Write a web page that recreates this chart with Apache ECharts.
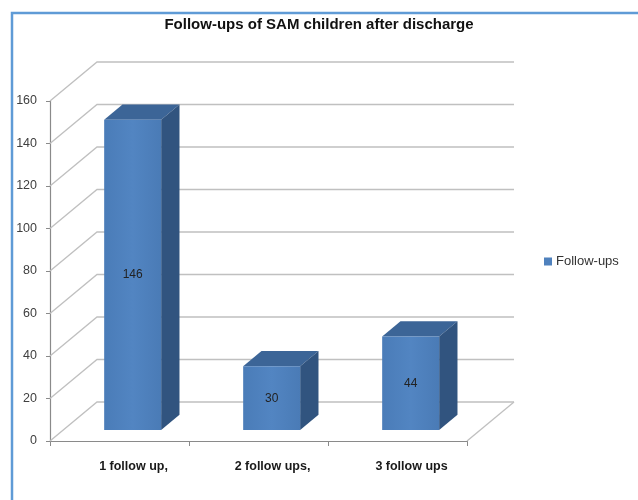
<!DOCTYPE html>
<html>
<head>
<meta charset="utf-8">
<script src="https://cdn.jsdelivr.net/npm/echarts@6/dist/echarts.min.js"></script>
<style>
  html, body { margin: 0; padding: 0; background: #ffffff; }
  #chart { width: 638px; height: 500px; }
</style>
</head>
<body>
<div id="chart"></div>
<script>
// Follow-up counts per category
const categories = ['1 follow up,', '2 follow ups,', '3 follow ups'];
const followUps = [146, 30, 44];
const seriesName = 'Follow-ups';
const valueTicks = [0, 20, 40, 60, 80, 100, 120, 140, 160];

// pseudo-3D geometry (pixels)
const DEPTH_DX = 47, DEPTH_DY = -39;       // front plane -> back wall
const BAR_Z0 = 0.28, BAR_Z1 = 0.67;        // bar front/back as fraction of depth
const BAR_W = 0.41;                        // bar width as fraction of band
const FONT = '"Liberation Sans", Arial, sans-serif';

const chart = echarts.init(document.getElementById('chart'), null, { renderer: 'canvas' });

function wallItem(params, api) {
  const cs = params.coordSys;
  const y = api.coord([0, api.value(1)])[1];
  const style = { stroke: '#c0c0c0', lineWidth: 1.3, fill: null };
  const children = [{
    type: 'polyline',
    shape: { points: [[cs.x, y], [cs.x + DEPTH_DX, y + DEPTH_DY], [cs.x + cs.width + DEPTH_DX, y + DEPTH_DY]] },
    style: style
  }];
  if (api.value(1) === valueTicks[0]) {
    children.push({
      type: 'line',
      shape: { x1: cs.x + cs.width, y1: y, x2: cs.x + cs.width + DEPTH_DX, y2: y + DEPTH_DY },
      style: style
    });
  }
  return { type: 'group', children: children };
}

function barItem(params, api) {
  const idx = api.value(0);
  const val = api.value(1);
  const top = api.coord([idx, val]);
  const base = api.coord([idx, 0]);
  const band = api.size([1, 0])[0];
  const w = band * BAR_W;
  const fx = DEPTH_DX * BAR_Z0, fy = DEPTH_DY * BAR_Z0;
  const dx = DEPTH_DX * (BAR_Z1 - BAR_Z0), dy = DEPTH_DY * (BAR_Z1 - BAR_Z0);
  const x0 = top[0] - w / 2 + fx, x1 = x0 + w;
  const yT = top[1] + fy, yB = base[1] + fy;
  return {
    type: 'group',
    children: [
      { type: 'polygon', shape: { points: [[x0, yT], [x1, yT], [x1 + dx, yT + dy], [x0 + dx, yT + dy]] },
        style: { fill: '#3c6597' } },
      { type: 'polygon', shape: { points: [[x1, yT], [x1 + dx, yT + dy], [x1 + dx, yB + dy], [x1, yB]] },
        style: { fill: '#31547f' } },
      { type: 'rect', shape: { x: x0, y: yT, width: w, height: yB - yT },
        style: { fill: new echarts.graphic.LinearGradient(0, 0, 1, 0, [
          { offset: 0, color: '#4a7cb8' }, { offset: 0.5, color: '#5285c2' }, { offset: 1, color: '#4a7bb6' }]) } },
      { type: 'text', x: (x0 + x1) / 2, y: (yT + yB) / 2,
        style: { text: String(val), fill: '#222222', font: '12px ' + FONT, align: 'center', verticalAlign: 'middle' } }
    ]
  };
}

chart.setOption({
  animation: false,
  backgroundColor: '#ffffff',
  title: {
    text: 'Follow-ups of SAM children after discharge',
    left: 'center',
    top: 17,
    padding: 0,
    textStyle: { fontFamily: FONT, fontSize: 15, fontWeight: 'bold', color: '#111111' }
  },
  legend: {
    data: [seriesName],
    left: 544,
    top: 255,
    padding: 0,
    icon: 'rect',
    itemWidth: 8,
    itemHeight: 8,
    itemGap: 5,
    textStyle: { fontFamily: FONT, fontSize: 13, color: '#333333', padding: [0, 0, 0, -1] }
  },
  graphic: [{
    type: 'rect',
    shape: { x: 12, y: 13, width: 700, height: 600 },
    style: { fill: null, stroke: '#5f9bd6', lineWidth: 2.5 },
    silent: true,
    z: 100
  }],
  grid: { left: 50, top: 101, width: 417, height: 340, containLabel: false },
  xAxis: {
    type: 'category',
    data: categories,
    axisLine: { lineStyle: { color: '#8a8a8a', width: 1.2 } },
    axisTick: { show: true, length: 5, lineStyle: { color: '#8a8a8a' } },
    axisLabel: { margin: 19, padding: [0, 0, 0, 28], fontFamily: FONT, fontSize: 12.5, fontWeight: 'bold', color: '#1a1a1a' },
    splitLine: { show: false }
  },
  yAxis: {
    type: 'value',
    min: valueTicks[0],
    max: valueTicks[valueTicks.length - 1],
    interval: valueTicks[1] - valueTicks[0],
    axisLine: { show: true, lineStyle: { color: '#8a8a8a', width: 1.2 } },
    axisTick: { show: true, length: 4, lineStyle: { color: '#8a8a8a' } },
    axisLabel: { margin: 13, fontFamily: FONT, fontSize: 12.5, color: '#404040' },
    splitLine: { show: false }
  },
  series: [
    {
      type: 'custom',
      name: 'wall',
      silent: true,
      clip: false,
      z: 1,
      renderItem: wallItem,
      data: valueTicks.map(v => [0, v])
    },
    {
      type: 'custom',
      name: seriesName,
      clip: false,
      z: 3,
      itemStyle: { color: '#4f81bd' },
      renderItem: barItem,
      data: followUps.map((v, i) => [i, v])
    }
  ]
});
</script>
</body>
</html>
